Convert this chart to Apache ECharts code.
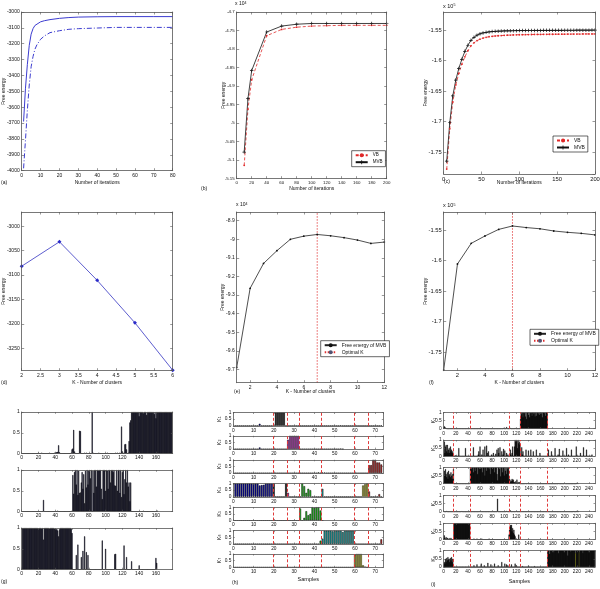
<!DOCTYPE html>
<html><head><meta charset="utf-8">
<script src="https://cdn.jsdelivr.net/npm/echarts/dist/echarts.min.js"></script>
<style>html,body{margin:0;padding:0;background:#fff}#c{width:600px;height:589px}</style>
</head><body><div id="c"></div>
<script>
// ---------------- DATA ----------------
// (a) free energy vs iterations
const aX = [1,2,3,4,5,6,7,8,10,12,15,20,25,30,40,50,60,70,80];
const aSolid = [-3690,-3480,-3330,-3210,-3140,-3105,-3085,-3075,-3062,-3055,-3048,-3040,-3035,-3032,-3030,-3029,-3029,-3029,-3029];
const aDash  = [-3985,-3807,-3618,-3460,-3345,-3281,-3235,-3208,-3172,-3151,-3130,-3118,-3109,-3105,-3101,-3097,-3097,-3097,-3097];
// (b) x10^4
const bX = [10,15,20,40,60,80,100,120,140,160,180,200];
const bVB  = [-5.114,-4.962,-4.883,-4.764,-4.747,-4.741,-4.738,-4.737,-4.736,-4.736,-4.736,-4.736];
const bMVB = [-5.078,-4.934,-4.858,-4.754,-4.738,-4.733,-4.731,-4.731,-4.731,-4.731,-4.731,-4.731];
// (c) x10^5
const cX = [4,8,12,16,20,24,28,32,36,40,44,48,52,56,60,64,68,72,76,80,84,88,92,96,100,104,108,112,116,120,124,128,132,136,140,144,148,152,156,160,164,168,172,176,180,184,188,192,196,200];
const cVB = [-1.778,-1.712,-1.668,-1.640,-1.621,-1.606,-1.594,-1.584,-1.576,-1.571,-1.5675,-1.565,-1.5633,-1.562,-1.561,-1.5603,-1.5598,-1.5594,-1.5591,-1.5588,-1.5585,-1.5583,-1.5581,-1.5579,-1.5578,-1.5577,-1.5576,-1.5575,-1.5574,-1.5573,-1.5572,-1.5572,-1.5571,-1.5571,-1.557,-1.557,-1.5569,-1.5569,-1.5568,-1.5568,-1.5567,-1.5567,-1.5566,-1.5566,-1.5566,-1.5565,-1.5565,-1.5565,-1.5565,-1.5565];
const cMVB = [-1.765,-1.702,-1.658,-1.632,-1.613,-1.598,-1.585,-1.575,-1.567,-1.562,-1.5585,-1.5563,-1.5548,-1.5538,-1.5531,-1.5526,-1.5522,-1.5519,-1.5517,-1.5515,-1.5514,-1.5513,-1.5512,-1.5511,-1.551,-1.5509,-1.5509,-1.5508,-1.5508,-1.5507,-1.5507,-1.5507,-1.5506,-1.5506,-1.5506,-1.5505,-1.5505,-1.5505,-1.5505,-1.5504,-1.5504,-1.5504,-1.5504,-1.5503,-1.5503,-1.5503,-1.5503,-1.5503,-1.5502,-1.5502];
// (d)
const dX = [2,3,4,5,6];
const dY = [-3082,-3032,-3111,-3198,-3295];
// (e) x10^4
const eX = [1,2,3,4,5,6,7,8,9,10,11,12];
const eY = [-9.69,-9.264,-9.13,-9.061,-9.0,-8.983,-8.974,-8.981,-8.991,-9.004,-9.022,-9.015];
const eOptK = 7;
// (f) x10^5
const fX = [1,2,3,4,5,6,7,8,9,10,11,12];
const fY = [-1.7795,-1.6057,-1.5719,-1.5598,-1.549,-1.5434,-1.546,-1.548,-1.5516,-1.5538,-1.5555,-1.558];
const fOptK = 6;
// (g) responsibilities, samples 1..179
const g1 = [0,0,0,0,0,0,0,0,0,0,
 0,0,0,0,0,0,0,0,0,.02,
 0,0,0,.02,0,0,0,0,0,0,
 0,0,.02,0,0,0,0,0,.02,.02,
 .03,.03,.04,.2,.03,0,0,0,0,0,
 0,0,0,0,0,0,0,0,.02,.1,
 .12,.57,.05,0,0,0,0,0,.55,.54,
 0,0,0,0,.02,0,.02,0,0,0,
 0,0,0,1,.02,0,0,0,0,0,
 0,.02,0,0,0,0,0,0,0,0,
 0,.02,0,0,0,0,0,0,0,0,
 0,.02,0,.02,0,0,.02,0,.65,.05,
 0,.02,.22,.23,.1,0,.02,.3,.75,.8,
 1,1,1,1,1,1,1,1,1,.9,
 1,1,1,1,.97,1,1,1,.93,1,
 1,1,1,1,1,1,1,.95,1,.85,
 1,1,1,1,1,1,1,1,1,1,
 1,1,1,1,1,1,1,1,1];
const g2 = [0,0,0,0,0,0,0,0,0,0,
 0,0,0,0,0,0,0,0,0,0,
 0,0,0,0,0,.28,0,0,0,0,
 0,0,0,0,0,0,0,0,0,0,
 0,0,.02,0,0,0,0,0,0,0,
 0,0,0,0,0,0,0,0,0,.02,
 .88,.43,.95,1,.65,1,.4,.98,.45,.46,
 .7,.95,.55,.9,.2,.98,.58,1,.65,.98,
 1,.8,1,0,.98,.45,1,1,.6,1,
 1,.98,1,1,.55,.3,1,1,1,.5,
 1,.98,.55,1,1,.7,1,1,.95,1,
 .63,.62,1,.5,1,1,.45,1,.35,.95,
 1,.42,.78,1,.7,1,.6,.7,.25,.7,
 0,0,0,0,0,0,0,0,0,0,
 0,0,0,0,.02,0,0,0,0,0,
 0,0,0,0,0,0,0,0,0,0,
 0,.02];
const g3 = [1,1,1,1,1,1,1,1,1,1,
 1,1,1,1,1,1,1,1,1,.98,
 1,1,1,.98,1,.72,1,1,1,1,
 1,1,.98,1,1,1,1,1,.98,.98,
 .97,.97,.94,.8,.97,1,1,1,1,1,
 1,1,1,1,1,1,1,1,.98,.88,
 0,0,0,0,.35,0,.6,0,0,0,
 .3,0,.45,0,.8,0,.42,0,.35,0,
 0,0,0,0,0,0,0,0,0,0,
 0,0,0,0,0,.7,0,0,0,.5,
 0,0,0,0,0,0,0,0,0,0,
 .37,.38,0,0,0,0,0,0,0,0,
 0,.58,0,0,.3,0,0,0,0,0,
 .2,0,0,0,0,0,0,0,0,.1,
 0,0,0,0,0,0,0,0,0,0,
 0,0,0,0,0,0,0,0,0,.28,
 .16];
// (h) 73 samples, 7 clusters
const hClass = [1,1,1,1,1,1,1,1,1,1,
 1,1,1,1,1,1,1,1,1,2,
 2,2,2,2,2,2,3,3,3,3,
 3,3,4,4,4,4,4,4,4,4,
 4,4,4,5,5,5,5,5,5,5,
 5,5,5,5,5,5,5,5,5,6,
 6,6,6,6,6,6,7,7,7,7,
 7,7,7];
const hColors = ['#0c0cb4','#000000','#cc22cc','#22cc22','#22b4b4','#cccc22','#c81e1e'];
const hBounds = [19.5,26.5,32.5,43.5,59.5,66.5];
const h1 = [0,0,0,0,0,0,0,0,0,0, 0,0,.15,0,0,0,0,0,0,.05, 1,1,1,1,1,0,0,0,0,0, 0,0,0,0,0,0,0,0,0,0, 0,0,0,0,0,0,0,0,0,0, 0,0,.04,0,0,0,0,0,0,0, 0,0,0,0,0,0,0,0,0,0, 0,0,.03];
const h2 = [0,0,0,0,0,0,0,0,0,0, 0,0,.12,0,0,0,0,0,0,0, 0,0,0,0,0,0,.7,1,1,1, 1,1,0,0,0,0,0,0,0,0, 0,0,0,0,0,0,0,0,0,0, 0,0,.03,0];
const h3 = [0,0,0,0,0,0,0,0,0,0, 0,0,0,0,0,0,0,0,0,0, 0,0,0,0,0,0,0,0,0,0, 0,0,0,0,0,0,0,0,0,.03, 0,.05,0,.04,.04,0,0,0,0,0, 0,0,0,0,0,0,0,0,0,0, 0,0,0,0,0,0,.6,.6,1,1, .8,.8,.65];
const h4 = [1,1,1,1,1,1,1,1,1,1, 1,1,.85,.88,.9,1,1,1,1,1, 0,0,0,0,0,1,.3,0,0,0, 0,0,0,1,.8,.3,.6,.5,0,0, 0,0,0,.6,0,0,0,0,0,0, 0,0,0,0,0,0,0,0,0,0, 0,0,0,.85,.95,1,.4,0,0,0, 0,.2,0];
const h5 = [0,0,0,0,0,0,0,0,0,0, 0,0,0,0,0,0,0,0,0,0, 0,0,0,0,0,0,0,0,0,0, 0,0,.9,0,.2,.7,.4,.5,1,.95, 1,1,.75,0];
const h6 = [0,0,0,0,0,0,0,0,0,0, 0,0,0,0,0,0,0,0,0,0, 0,0,0,0,0,0,0,0,0,0, 0,0,0,0,0,0,0,0,0,0, 0,0,.25,.4,1,1,1,1,.95,1, 1,1,1,.9,1,1,1,1,1,0, 0,0,0,0,0,0,0,0,0,0, 0,0,.35];
const h7 = [0,0,0,0,0,0,0,0,0,0, 0,0,0,0,0,0,0,0,0,0, 0,0,0,0,0,0,0,0,0,0, 0,0,0,0,0,0,0,0,0,0, 0,0,0,0,0,0,0,0,0,0, 0,0,0,0,0,0,0,0,0,.95, 1,1,1,.15,.05,0];
// (i) ~249 samples, 6 clusters
const iBounds = [16.5,43.5,107.5,126.5,171.5];
const iYellow = [218,224];
const iK1 = [.15,.1,.05,.03,0,0,0,0,0,0,
 0,0,0,0,0,0,0,0,0,0, 0,0,0,0,0,0,0,0,0,0, 0,0,0,0,0,0,0,0,0,0, 0,0,0,0,0,0,0,0,0,0,
 0,0,0,0,0,0,0,0,0,0, 0,0,0,0,0,0,0,0,0,0, 0,0,0,0,0,0,0,0,0,0, 0,0,0,0,0,0,0,0,0,0,
 0,0,0,0,0,0,0,0,.05,0,
 0,0,0,.1,0,0,0,0,0,.05,
 0,0,0,0,0,0,0,.04,0,0,
 0,0,0,0,0,0,.6,1,.9,1,
 .7,1,.95,1,.75,1,.6,1,1,.85,
 1,.7,1,.95,1,.8,1,1,.9,1,
 .75,1,.8,1,1,.9,1,.85,1,1,
 .9,1,.7,1,1,.95,1,.8,1,1,
 1,0];
const iK2 = [.9,.2,.6,.7,.3,.7,.2,.4,.5,.2,
 .6,.3,.4,.2,.3,.1,0,0,0,.05,
 0,0,0,0,.5,0,0,0,0,0,
 0,0,0,0,0,.5,0,0,0,0,
 0,0,0,0,0,0,0,0,.55,0,
 0,0,0,0,0,0,.1,.3,0,.6,
 0,0,.1,0,.4,0,0,.6,0,0,
 .65,.2,0,.3,0,0,0,0,.1,0,
 0,.2,0,0,0,.15,0,.4,0,.5,
 .2,0,.55,0,0,.3,0,.1,.45,0,
 .35,0,0,.2,0,.1,0,0,.15,.4,
 .1,0,.2,.6,0,0,.6,1,.9,1,
 .95,.5,1,.8,.9,.7,0,0,.55,.1,
 .3,0,0,0,0,.4,0,0,0,.35,
 0,0,0,.4,0,0,0,.3,0,0,
 0,0,.4,0,0,0,0,0,.2,0,
 0,0,0,0,0,0,0,0,0,0,
 0,0,.4,0,0,0,0,.3,0,0,
 0,0,0,.5,0,0,0,0,.1,0,
 .45,0,0,0,0,0,.35,0,0,0,
 0,0,.5,0,0,.1,0,0,0,0,
 .4,0,0,0,0,0,0,0,.6,0,
 0,0,0,0,0,.2,0,0,0,0,
 .55,0,0,0,0,.4,0,0,0,0,
 0,0,0,0,.1];
const iK3 = [.8,.5,.9,.6,.4,.7,.3,.8,.5,.6,
 .4,.7,.5,.3,.6,.9,0,0,0,0,
 0,0,0,0,0,0,0,0,0,0,
 0,0,0,0,0,0,0,0,0,0,
 0,0,0,1,1,.9,1,1,.7,1,
 1,.8,1,1,1,.6,1,1,.9,1,
 1,.95,1,.7,1,1,1,.5,1,1,
 .8,1,1,1,.9,1,.6,1,1,1,
 .9,1,1,.7,1,1,1,.6,.2,1,
 1,.9,1,.45,1,1,.7,1,1,.5,
 1,.8,1,.6,1,.9,1,.2,.3,.1,
 .2,.15,.3,.2,.25,.1,.1,0,.15,.05,
 .25,0,.1,.05,.1,0,0,0,0,0,
 0,0,0,0,.02,0,0,0,.02,0,
 0,0,0,0,0,0,0,0,0,.02,
 0,0,0,0,0,0,0,0,0,0, 0,0,0,0,0,0,0,0,0,0, 0,0,0,0,0,0,0,0,0,0,
 0,0,0,0,0,0,0,0,0,.02,
 0,0,0,0,0,0,0,0,0,.02,
 0,0,0,0,0,0,0,0,0,0,
 0,0,0,0,0,0,0,0,0,.05,
 .03,0];
const iK4 = [0,0,0,0,.05,0,0,0,0,0,
 0,0,0,0,0,0,0,0,0,0,
 0,0,0,0,0,0,0,0,0,.03,
 0,0,0,0,0,0,0,0,0,0, 0,0,0,0,0,0,0,0,0,0,
 0,0,0,0,0,0,0,0,0,.03,
 0,0,0,0,0,0,0,0,0,0, 0,0,0,0,0,0,0,0,0,0,
 0,0,0,0,0,0,0,0,.8,0,
 0,0,0,0,0,0,0,0,0,0,
 0,0,0,.05,0,0,0,0,0,.08,
 0,0,0,0,0,0,0,0,0,.04,
 0,0,0,0,0,0,0,0,0,0, 0,0,0,0,0,0,0,0,0,0, 0,0,0,0,0,0,0,0,0,0,
 0,0,0,0,0,0,0,0,0,0, 0,0,0,0,0,0,0,0,0,0, 0,0,0,0,0,0,0,0,0,0,
 0,0,0,0,0,0,0,0,0,0, 0,0,0,0,0,0,0,0,0,0, 0,0,0,0,0,0,0,0,0,0,
 0,0,0,0,.03,0,0,0,0,.05,
 0,.04,0];
const iK5 = [.25,.1,0,.15,0,.1,0,0,.08,0,
 0,.1,0,0,0,0,1,1,1,1,
 1,1,1,1,1,1,1,1,1,1,
 1,1,1,1,1,1,1,1,1,1,
 1,1,1,0,0,0,0,0,0,.05,
 0,0,0,0,.05,0,0,0,0,0,
 0,0,.05,0,0,0,0,0,0,0,
 0,0,0,0,.05,0,0,0,0,0,
 0,0,0,0,0,0,0,0,0,0, 0,0,0,0,0,0,0,0,0,0,
 0,0,0,0,0,0,0,.3,.6,.9,
 .8,.9,.5,.7,.4,.6,.3,.2,0,0,
 0,0,0,.3,0];
const iK6 = [.3,.2,.5,.3,.55,.4,.6,.45,.5,.3,
 .55,.4,.6,.3,.5,.1,0,0,0,0,
 0,0,0,0,0,0,0,0,0,0, 0,0,0,0,0,0,0,0,0,0,
 0,0,0,0,0,0,0,0,0,.1,
 0,0,0,0,.15,0,0,0,0,0,
 0,.2,0,0,0,0,.1,0,0,0,
 0,0,.25,0,0,0,0,.15,0,0,
 0,0,0,.2,0,0,0,0,0,.1,
 0,0,0,0,0,.3,0,0,0,0,
 .2,0,0,.15,0,.1,0,0,0,0,
 0,.15,0,0,0,0,0,.2,0,.1,
 0,0,0,0,0,0,0,0,0,.05,
 0,0,0,0,0,0,0,0,0,.08,
 0,0,0,0,0,0,0,0,0,.05,
 0,0,0,0,0,0,0,0,0,0, 0,0,0,0,0,0,0,0,0,0,
 0,1,1,1,.8,1,1,1,1,1,
 1,.9,1,1,1,1,1,1,1,.85,
 1,1,1,1,1,1,1,1,.9,1,
 1,1,1,1,.7,1,1,1,1,.95,
 1,1,1,1,1,1,1,.85,1,1,
 1,1,1,.9,1,1,1,1,1,.85,
 1,1,1,1,1,1,1,1,1,.9,
 1,1,1,1,1,1,1,1,1];

// ---------------- CHART ----------------
const FONT = '"Liberation Sans", Arial, Helvetica, sans-serif';
const AXC = '#555';
const PLUS = 'path://M4,0L6,0L6,4L10,4L10,6L6,6L6,10L4,10L4,6L0,6L0,4L4,4Z';
const grids=[], xAxes=[], yAxes=[], series=[], legends=[], graphics=[];
const plainNum = v => String(Math.round(v*1e6)/1e6);

function mkAxis(gi,o,pos,lab,fs){
  return {gridIndex:gi,type:'value',position:pos,min:o.min,max:o.max,interval:o.interval,
    minInterval:o.step,maxInterval:o.step,splitNumber:o.split||5,
    axisLine:{show:true,onZero:false,lineStyle:{color:AXC,width:0.8}},
    axisTick:{show:true,inside:true,length:o.tl||2.5,lineStyle:{color:AXC,width:0.6}},
    axisLabel:{show:lab,fontSize:fs,color:'#111',fontFamily:FONT,margin:o.lm||2,formatter:plainNum,
      showMinLabel:!o.hideMin,showMaxLabel:!o.hideMax,hideOverlap:false},
    splitLine:{show:false},
    name:(lab&&o.name)?o.name:'',nameLocation:'middle',nameGap:o.gap||10,nameMoveOverlap:false,
    nameTextStyle:{fontSize:o.nfs||5,color:'#111',fontFamily:FONT,
      rich:{s:{fontSize:3.6,fontFamily:FONT,color:'#111',verticalAlign:'bottom'}}},
    silent:true,z:5};
}
function panel(box,xo,yo,fs){
  const gi=grids.length;
  grids.push({left:box[0],top:box[1],width:box[2],height:box[3],containLabel:false,outerBoundsMode:'none',show:false});
  const xi=xAxes.length, yi=yAxes.length;
  xAxes.push(mkAxis(gi,xo,'bottom',true,fs), mkAxis(gi,xo,'top',false,fs));
  yAxes.push(mkAxis(gi,yo,'left',true,fs), mkAxis(gi,yo,'right',false,fs));
  return {x:xi,y:yi};
}
function line(ax,xs,ys,opt){
  series.push(Object.assign({type:'line',xAxisIndex:ax.x,yAxisIndex:ax.y,
    data:xs.map((x,i)=>[x,ys[i]]),animation:false,silent:true},opt));
}
function bars(ax,vals,colorOf,bounds,bw,width){
  const s={type:'bar',xAxisIndex:ax.x,yAxisIndex:ax.y,barWidth:width,animation:false,silent:true,
    itemStyle:{borderColor:'#000',borderWidth:bw},
    data:vals.map((v,i)=>({value:[i+1,v],itemStyle:{color:colorOf(i+1)}}))};
  if(bounds){
    s.markLine={silent:true,symbol:['none','none'],label:{show:false},animation:false,z:10,
      lineStyle:{color:'#e03a3a',type:[3,2],width:1},
      data:bounds.map(b=>({xAxis:b,lineStyle:{color:'#e03a3a',type:[3,2],width:1}}))};
  }
  series.push(s);
}
function txt(x,y,t,fs){
  graphics.push({type:'text',left:x,top:y,silent:true,
    style:{text:t,fontSize:fs,fontFamily:FONT,fill:'#111',
      rich:{u:{fontSize:3.6,fontFamily:FONT,fill:'#111',verticalAlign:'top'}}}});
}
function legend(names,left,top,fs){
  legends.push({show:true,data:names,left:left,top:top,orient:'vertical',itemWidth:12,itemHeight:5,
    itemGap:2,padding:[2,3,2,3],borderColor:'#000',borderWidth:0.6,backgroundColor:'#fff',
    selectedMode:false,textStyle:{fontSize:fs,fontFamily:FONT,color:'#111'},z:10});
}

// (a)
const A = panel([21.7,12,151,158.7],
  {min:0,max:80,interval:10,name:'Number of iterations',gap:9},
  {min:-4000,max:-3000,interval:100,name:'Free energy',gap:16},5);
line(A,aX,aDash,{symbol:'none',lineStyle:{color:'#3c3cd0',width:1,type:[5,2,1,2]}});
line(A,aX,aSolid,{symbol:'none',lineStyle:{color:'#3c3cd0',width:1}});
// (b)
const B = panel([236.7,12,150,166.7],
  {min:0,max:200,interval:20,name:'Number of iterations',gap:7},
  {min:-5.15,max:-4.7,interval:0.05,name:'Free energy',gap:11},4.4);
line(B,bX,bVB,{name:'VB',symbol:'circle',symbolSize:1.8,itemStyle:{color:'#e02828'},lineStyle:{color:'#e02828',width:0.8,type:[3,2]}});
line(B,bX,bMVB,{name:'MVB',symbol:PLUS,symbolSize:3.5,itemStyle:{color:'#111'},lineStyle:{color:'#111',width:0.8}});
legend(['VB','MVB'],351.7,150.7,4.5);
// (c)
const C = panel([443.7,12,151.3,162],
  {min:0,max:200,interval:50,name:'Number of iterations',gap:6},
  {min:-1.786,max:-1.5205,step:0.05,hideMin:true,hideMax:true,name:'Free energy',gap:16},5.8);
line(C,cX,cVB,{name:'VB',symbol:'circle',symbolSize:1.8,itemStyle:{color:'#e02828'},lineStyle:{color:'#e02828',width:0.8,type:[3,2]}});
line(C,cX,cMVB,{name:'MVB',symbol:PLUS,symbolSize:3.5,itemStyle:{color:'#111'},lineStyle:{color:'#111',width:0.8}});
legend(['VB','MVB'],553,136,5);
// (d)
const D = panel([21.7,212,151,158.7],
  {min:2,max:6,interval:0.5,name:'K - Number of clusters',gap:9},
  {min:-3296,max:-2971,step:50,hideMin:true,hideMax:true,name:'Free energy',gap:16},5);
line(D,dX,dY,{symbol:'diamond',symbolSize:4,itemStyle:{color:'#2a2ac8'},lineStyle:{color:'#4b4bc8',width:0.9}});
// (e)
const E = panel([236.7,212,147.6,170.7],
  {min:1,max:12,step:2,hideMin:true,name:'K - Number of clusters',gap:6},
  {min:-9.772,max:-8.853,step:0.1,hideMin:true,hideMax:true,name:'Free energy',gap:12},5);
line(E,eX,eY,{name:'Free energy of MVB',symbol:'circle',symbolSize:1.8,itemStyle:{color:'#111'},lineStyle:{color:'#222',width:0.8}});
line(E,[eOptK,eOptK],[-9.772,-8.853],{name:'Optimal K',symbol:'none',lineStyle:{color:'#e03030',width:0.8,type:[1.5,1.5]}});
legend(['Free energy of MVB','Optimal K'],320.7,340.7,5);
// (f)
const F = panel([443.7,212,151.3,158.7],
  {min:1,max:12,step:2,hideMin:true,name:'K - Number of clusters',gap:9},
  {min:-1.7806,max:-1.5205,step:0.05,hideMin:true,hideMax:true,name:'Free energy',gap:16},5.8);
line(F,fX,fY,{name:'Free energy of MVB',symbol:'circle',symbolSize:1.8,itemStyle:{color:'#111'},lineStyle:{color:'#222',width:0.8}});
line(F,[fOptK,fOptK],[-1.7806,-1.5205],{name:'Optimal K',symbol:'none',lineStyle:{color:'#e03030',width:0.8,type:[1.5,1.5]}});
legend(['Free energy of MVB','Optimal K'],530,329.3,5);
// (g)
const gTops=[412,470,528];
[g1,g2,g3].forEach((arr,k)=>{
  const G = panel([21.7,gTops[k],151,41.5],
    {min:0,max:180,interval:20,hideMax:true,tl:1.8},
    {min:0,max:1,interval:0.5,tl:1.8},5);
  bars(G,arr,()=>'#111150',null,0.5,'100%');
});
// (h)
const hTops=[412.5,435.8,459.8,483.5,507.2,530.7,554];
[h1,h2,h3,h4,h5,h6,h7].forEach((arr,k)=>{
  const H = panel([233.3,hTops[k],150,13.3],
    {min:0,max:74,interval:10,hideMax:true,tl:1.5,name:k===6?'Samples':'',gap:9.5,nfs:5.5},
    {min:0,max:1,interval:0.5,tl:1.5,name:'K{s|'+(k+1)+'}',gap:11,nfs:5.5},4.8);
  bars(H,arr,(i)=>hColors[hClass[i-1]-1],hBounds,0.5,'85%');
});
// (i)
const iTops=[412.5,440,467.5,495.5,523.3,550.7];
[iK1,iK2,iK3,iK4,iK5,iK6].forEach((arr,k)=>{
  const I = panel([443.7,iTops[k],151.3,16.2],
    {min:0,max:250,interval:20,hideMax:true,tl:1.5,name:k===5?'Samples':'',gap:12,nfs:5.5},
    {min:0,max:1,interval:0.5,tl:1.5,name:'K{s|'+(k+1)+'}',gap:7,nfs:5.5},4.8);
  bars(I,arr,(i)=>(k===5&&iYellow.indexOf(i)>=0)?'#e8e820':'#000',iBounds,0.3,'100%');
});

// labels
txt(1,180,'(a)',5); txt(201,186,'(b)',5); txt(444,179.5,'(c)',5);
txt(1,380,'(d)',5); txt(234,389,'(e)',5); txt(429,380,'(f)',5);
txt(1,579,'(g)',5); txt(232,580,'(h)',5); txt(431,582,'(i)',5);
txt(235,1,'x 10{u|4}',5); txt(443,3,'x 10{u|5}',5.5);
txt(236,202,'x 10{u|4}',5); txt(443,202.5,'x 10{u|5}',5.5);

const chart = echarts.init(document.getElementById('c'),null,{renderer:'canvas'});
chart.setOption({animation:false,backgroundColor:'#fff',textStyle:{fontFamily:FONT},
  grid:grids,xAxis:xAxes,yAxis:yAxes,series:series,legend:legends,graphic:graphics});
</script></body></html>
